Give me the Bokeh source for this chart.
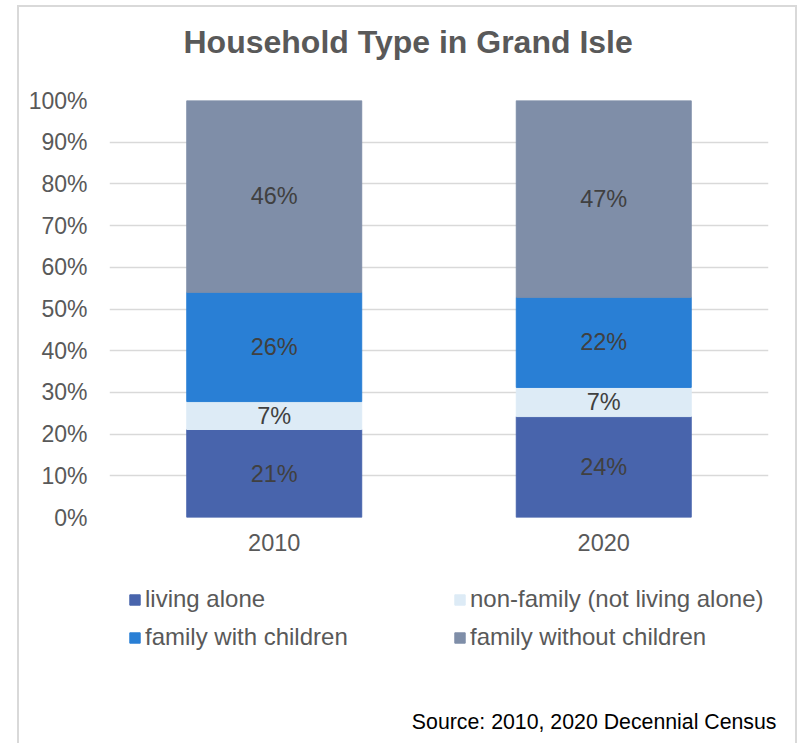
import numpy as np
from bokeh.plotting import figure
from bokeh.layouts import column
from bokeh.models import (ColumnDataSource, FactorRange, Range1d, FixedTicker,
                          PrintfTickFormatter, Legend, LegendItem, LabelSet, Title)
from bokeh.core.properties import value
from bokeh.embed import file_html
from bokeh.resources import INLINE

years = ["2010", "2020"]
series = ["living alone", "non-family (not living alone)", "family with children", "family without children"]
living_alone = [21.1, 24.2]
non_family = [6.7, 7.0]
family_with_children = [26.2, 21.6]
family_without_children = [46.0, 47.2]
y_ticks = [0, 10, 20, 30, 40, 50, 60, 70, 80, 90, 100]
colors = ["#4864AC", "#DDEBF6", "#297FD5", "#7F8EA8"]
title_text = "Household Type in Grand Isle"
source_text = "Source: 2010, 2020 Decennial Census"

keys = ["la", "nf", "fwc", "fwo"]
data = dict(years=years, la=living_alone, nf=non_family, fwc=family_with_children, fwo=family_without_children)
src = ColumnDataSource(data)

FONT = "Liberation Sans"
W = 780
p = figure(x_range=FactorRange(*years, range_padding=0), y_range=Range1d(0, 100),
           width=W, height=565, output_backend="svg", toolbar_location=None,
           title_location=None,
           min_border_left=92, min_border_right=29, min_border_top=95, min_border_bottom=53)
p.border_fill_color = None

renderers = p.vbar_stack(keys, x="years", width=0.531, color=colors, line_color=colors,
                         source=src)

# data labels at segment centres
vals = np.array([living_alone, non_family, family_with_children, family_without_children])
cum = np.cumsum(vals, axis=0)
mids = cum - vals / 2
lx, ly, lt = [], [], []
for i in range(vals.shape[0]):
    for j, yr in enumerate(years):
        lx.append(yr)
        ly.append(float(mids[i, j]))
        lt.append(f"{round(vals[i, j])}%")
lab_src = ColumnDataSource(dict(x=lx, y=ly, t=lt))
p.add_layout(LabelSet(x="x", y="y", text="t", source=lab_src, text_align="center",
                      text_baseline="middle", text_font=value(FONT), text_font_size="23.5px",
                      text_color="#404040"))

# title (spacer first: it sits nearest the frame)
p.add_layout(Title(text=" ", text_font_size="20px", standoff=17), "above")
p.add_layout(Title(text=title_text, text_font=FONT, text_font_size="32px",
                   text_font_style="bold", text_color="#595959", align="left",
                   offset=74, standoff=0), "above")

# axes
p.yaxis.ticker = FixedTicker(ticks=y_ticks)
p.yaxis.formatter = PrintfTickFormatter(format="%d%%")
for ax in (p.xaxis, p.yaxis):
    ax.axis_line_color = None
    ax.major_tick_line_color = None
    ax.minor_tick_line_color = None
    ax.major_tick_out = 0
    ax.major_tick_in = 0
    ax.major_label_text_font = FONT
    ax.major_label_text_font_size = "23px"
    ax.major_label_text_color = "#595959"
p.xaxis.major_label_text_font_size = "23.5px"
p.yaxis.major_label_standoff = 22
p.xaxis.major_label_standoff = 16
p.xgrid.grid_line_color = None
p.ygrid.grid_line_color = "#d9d9d9"
p.ygrid.grid_line_width = 1.5
p.outline_line_color = None

# lower panel: legend and source note
H2 = 173
p2 = figure(width=W, height=H2, output_backend="svg", toolbar_location=None,
            x_range=FactorRange(*years), y_range=Range1d(-2, -1),
            x_axis_location=None, y_axis_location=None, title_location=None,
            min_border=0, min_border_left=0, min_border_right=0,
            min_border_top=0, min_border_bottom=40)
p2.border_fill_color = None
p2.background_fill_color = None
p2.outline_line_color = None
p2.grid.grid_line_color = None

# legend proxies (same data, outside the visible range of this panel)
proxies = p2.vbar_stack(keys, x="years", width=0.5, color=colors, line_color=colors, source=src)
for r in proxies:
    r.visible = False

def make_legend(idx, loc):
    items = [LegendItem(label=series[i], renderers=[proxies[i]]) for i in idx]
    lg = Legend(items=items, location=loc, orientation="vertical", padding=0, margin=0,
                spacing=10, glyph_width=13, glyph_height=13, label_standoff=4,
                label_height=28, label_text_font=FONT, label_text_font_size="24px",
                label_text_color="#595959", background_fill_alpha=0,
                border_line_color=None, click_policy="none")
    p2.add_layout(lg, "center")

make_legend([0, 2], (19, 52))
make_legend([1, 3], (344, 52))

p2.add_layout(Title(text=source_text, text_font=FONT, text_font_size="21.3px",
                    text_font_style="normal", text_color="#000000", align="right",
                    offset=-8, standoff=10, vertical_align="middle"), "below")

layout = column(p, p2, spacing=0)
layout.styles = {"margin-left": "17px", "margin-top": "5px",
                 "box-shadow": "inset 2px 0 0 0 #d9d9d9, inset -2px 0 0 0 #d9d9d9, inset 0 2px 0 0 #d9d9d9"}

open("out.html", "w").write(file_html(layout, INLINE))
